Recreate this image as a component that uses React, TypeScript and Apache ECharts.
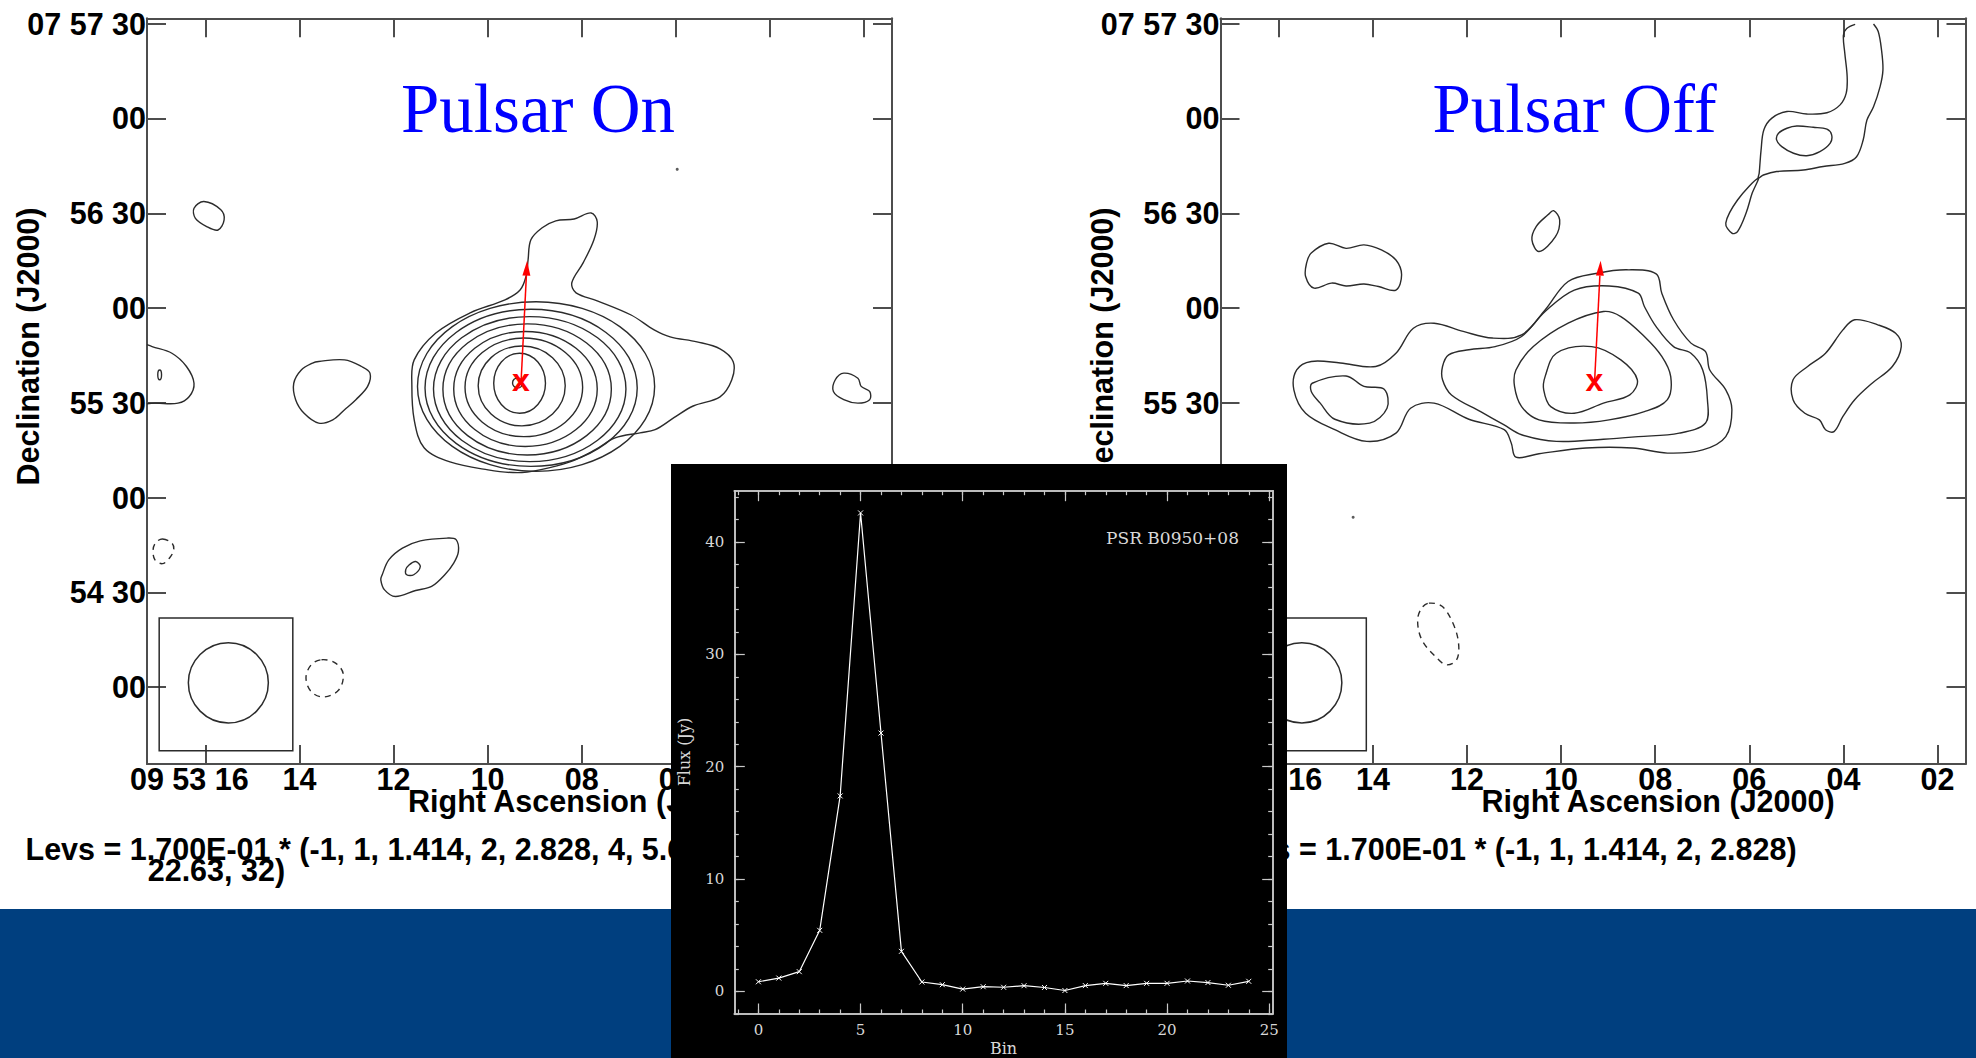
import React, { useEffect, useRef } from 'react';
import * as echarts from 'echarts';

// ---------- Radio maps: RA in seconds of 09h53m, Dec in arcsec above +07°54'00" ----------
const raMin = 1.405;
const raMax = 17.239;
const decMin = -24.3;
const decMax = 211.7;
const raTickValues = [16, 14, 12, 10, 8, 6, 4, 2];
const raTickLabels = ['09 53 16', '14', '12', '10', '08', '06', '04', '02'];
const decTickValues = [0, 30, 60, 90, 120, 150, 180, 210];
const decTickLabels = ['00', '54 30', '00', '55 30', '00', '56 30', '00', '07 57 30'];

const psrPos = [9.29, 96.2];
const psrArrowTip = [9.16, 135.0];

const levsOnLine1 = 'Levs = 1.700E-01 * (-1, 1, 1.414, 2, 2.828, 4, 5.657, 8, 11.31, 16,';
const levsOnLine2 = '22.63, 32)';
const levsOff = 'Levs = 1.700E-01 * (-1, 1, 1.414, 2, 2.828)';

// ---- "Pulsar On" contours [RA s, Dec "] ----
const onOuter = [[7.80,150.1],[7.67,147.3],[7.74,141.6],[7.97,134.3],[8.21,128.0],[8.12,124.8],[7.67,122.3],[6.95,117.8],[6.46,113.1],[6.12,110.9],[5.55,109.3],[5.06,107.1],[4.78,103.0],[4.81,97.3],[5.06,91.9],[5.63,89.0],[6.04,85.3],[6.44,81.5],[6.76,80.5],[7.29,78.9],[7.72,75.1],[8.25,71.3],[8.89,68.8],[9.37,67.9],[9.99,68.8],[10.80,71.3],[11.35,75.8],[11.56,84.6],[11.61,95.7],[11.56,103.6],[11.10,112.1],[10.37,118.5],[9.63,122.6],[9.31,125.7],[9.18,130.2],[9.14,135.2],[9.08,141.6],[8.84,145.4],[8.55,147.6],[8.16,148.2]];
const onRing1 = [[8.97,122.0],[6.45,95.2],[8.97,68.3],[11.49,95.2]];
const onRing2 = [[9.08,119.6],[6.82,94.7],[9.08,69.9],[11.33,94.7]];
const onRing3 = [[9.11,117.3],[7.06,94.4],[9.11,71.4],[11.15,94.4]];
const onRing4 = [[9.16,115.0],[7.37,94.3],[9.16,73.5],[10.95,94.3]];
const onRing5 = [[9.20,112.6],[7.67,94.4],[9.20,76.2],[10.72,94.4]];
const onRing6 = [[9.23,110.5],[7.98,94.9],[9.23,79.3],[10.48,94.9]];
const onRing7 = [[9.27,108.0],[8.35,95.4],[9.27,82.7],[10.20,95.4]];
const onRing8 = [[9.32,105.7],[8.77,96.2],[9.32,86.7],[9.87,96.2]];
const onRing9 = [[9.36,97.9],[9.26,96.3],[9.36,94.7],[9.47,96.3]];
const onEdgeOval = [[16.97,100.4],[16.93,98.9],[16.97,97.3],[17.01,98.9]];
const onBlobNW = [[16.03,153.7],[15.67,151.1],[15.60,147.9],[15.73,144.7],[15.97,145.8],[16.21,148.4],[16.24,151.6]];
const onBlobW = [[13.59,103.1],[13.04,103.6],[12.68,101.5],[12.50,99.4],[12.55,95.2],[12.80,91.0],[13.04,87.8],[13.29,84.6],[13.59,83.6],[13.90,86.7],[14.08,91.0],[14.12,96.2],[13.96,100.4],[13.72,102.6]];
const onBlobE = [[2.43,99.4],[2.13,97.8],[2.06,95.2],[1.88,93.6],[1.88,91.0],[2.13,89.9],[2.43,91.0],[2.65,93.6],[2.61,97.3]];
const onBlobS = [[12.24,35.6],[12.10,40.3],[11.81,44.0],[11.43,46.3],[10.86,47.2],[10.67,46.7],[10.62,43.0],[10.72,39.3],[10.91,35.6],[11.19,31.9],[11.53,30.6],[11.96,28.7],[12.19,30.8],[12.27,34.0]];
const onBlobSInner = [[11.67,38.7],[11.53,39.8],[11.43,38.2],[11.57,35.6],[11.72,35.6],[11.74,37.2]];
const onEdgeBlob = [[17.24,108.4],[17.13,107.8],[16.71,105.7],[16.40,101.5],[16.24,96.2],[16.34,92.0],[16.58,89.9],[17.07,89.9],[17.24,89.7]];
const onNegA = [[16.91,46.9],[16.71,45.6],[16.67,43.5],[16.76,40.9],[16.91,39.1],[17.07,40.3],[17.11,43.5],[17.05,45.8]];
const onNegB = [[13.53,8.7],[13.24,7.7],[13.07,4.3],[13.16,-0.8],[13.48,-3.1],[13.75,-1.4],[13.86,3.0],[13.75,7.1]];
const onDot = [[5.97,163.9]];

// ---- "Pulsar Off" contours ----
const offOuter = [[10.34,119.4],[9.85,128.4],[9.23,131.0],[8.61,132.1],[7.98,130.8],[7.86,124.7],[7.61,116.3],[7.24,108.9],[6.93,106.2],[6.84,100.4],[6.50,94.1],[6.37,87.8],[6.50,79.3],[6.99,75.1],[7.74,74.1],[8.48,75.7],[9.47,75.7],[10.47,73.9],[10.96,72.8],[11.06,77.3],[11.21,81.5],[11.96,84.8],[12.70,89.9],[13.20,88.3],[13.51,80.4],[14.13,77.8],[14.81,81.5],[15.43,86.7],[15.68,94.1],[15.62,100.4],[15.31,103.1],[14.69,102.6],[13.94,101.5],[13.51,105.7],[13.14,113.6],[12.70,115.2],[12.08,112.6],[11.46,110.5],[10.84,111.5]];
const offWestInner = [[15.29,96.2],[14.57,98.5],[14.19,95.2],[13.76,94.3],[13.70,88.3],[14.07,83.6],[14.81,84.8],[15.12,89.9],[15.31,93.6]];
const offLevel2 = [[12.52,101.5],[12.39,105.2],[11.96,106.8],[11.40,107.8],[10.84,111.0],[10.34,118.9],[9.72,125.7],[8.98,127.0],[8.36,124.7],[8.23,120.5],[7.98,114.1],[7.61,107.8],[7.24,105.7],[6.99,100.4],[6.89,91.0],[6.93,83.6],[7.49,80.4],[8.36,79.3],[9.10,78.5],[10.10,77.8],[10.84,79.9],[11.21,83.0],[11.71,87.2],[12.33,92.5],[12.52,97.3]];
const offLevel3 = [[10.96,100.4],[10.59,107.8],[9.85,115.2],[9.10,118.9],[8.73,117.3],[8.23,111.0],[7.86,104.7],[7.67,98.3],[7.74,91.0],[8.23,87.2],[8.98,84.6],[9.72,83.6],[10.47,84.6],[10.84,88.8],[10.99,95.2]];
const offLevel4 = [[10.34,98.3],[10.10,105.7],[9.35,107.8],[8.73,103.6],[8.38,97.3],[8.54,92.5],[9.10,89.9],[9.72,86.7],[10.22,88.8],[10.37,94.1]];
const offBlobNW = [[15.31,137.4],[14.94,140.5],[14.57,138.9],[14.19,140.0],[13.82,138.4],[13.51,135.2],[13.39,130.5],[13.51,125.7],[13.88,126.8],[14.19,127.6],[14.57,127.0],[14.88,127.9],[15.25,126.3],[15.43,130.0],[15.41,134.2]];
const offOval = [[10.16,150.8],[10.03,147.9],[10.12,142.6],[10.47,137.9],[10.62,141.6],[10.53,145.8],[10.28,149.5]];
const offBlobE = [[3.76,116.3],[3.27,114.7],[2.89,112.0],[2.77,107.8],[2.96,101.5],[3.39,96.2],[3.76,91.0],[4.01,85.7],[4.20,80.9],[4.38,81.5],[4.51,84.6],[4.82,86.7],[5.07,91.0],[5.07,97.3],[4.76,101.5],[4.38,105.7],[4.01,113.1]];
const offNorthArc = [[3.75,209.8],[3.93,208.5],[4.00,206.4],[3.97,200.6],[3.92,193.2],[3.94,188.0],[4.07,184.3],[4.35,181.8],[4.78,181.4],[5.20,182.2],[5.52,180.1],[5.69,176.4],[5.75,170.0],[5.79,162.7],[5.81,161.1],[5.70,162.1],[5.42,163.2],[4.85,163.7],[4.43,164.8],[3.97,165.8],[3.72,167.9],[3.58,173.2],[3.50,179.5],[3.36,183.7],[3.22,190.1],[3.16,195.3],[3.19,201.7],[3.26,207.5],[3.36,209.9]];
const offNorthLoop = [[5.81,161.1],[6.25,154.2],[6.50,146.9],[6.37,143.7],[6.25,144.2],[6.07,150.0],[5.94,156.3]];
const offNorthInner = [[5.38,175.3],[5.20,176.9],[4.99,177.6],[4.64,177.2],[4.35,176.6],[4.25,174.8],[4.28,172.2],[4.50,169.5],[4.78,168.2],[5.06,169.0],[5.31,171.1],[5.42,173.2]];
const offNeg = [[12.81,26.6],[12.53,25.6],[12.30,20.3],[12.18,14.0],[12.22,8.7],[12.44,7.1],[12.67,9.7],[12.96,15.0],[13.05,21.3],[12.96,25.1]];
const offDot = [[14.42,53.8]];

// ---- restoring beam ----
const beamBox = [[16.98, 21.9], [14.14, -20.1]];
const beamCircle = [[15.51, 14.1], [14.66, 1.4], [15.51, -11.3], [16.36, 1.4]];

const onClosed = [onOuter, onRing1, onRing2, onRing3, onRing4, onRing5, onRing6, onRing7, onRing8, onRing9, onEdgeOval, onBlobNW, onBlobW, onBlobE, onBlobS, onBlobSInner];
const onOpen = [onEdgeBlob];
const onDashed = [onNegA, onNegB];
const offClosed = [offOuter, offWestInner, offLevel2, offLevel3, offLevel4, offBlobNW, offOval, offBlobE, offNorthLoop, offNorthInner];
const offOpen = [offNorthArc];
const offDashed = [offNeg];

// ---------- Inset: pulse profile ----------
const bins = [0, 1, 2, 3, 4, 5, 6, 7, 8, 9, 10, 11, 12, 13, 14, 15, 16, 17, 18, 19, 20, 21, 22, 23, 24];
const flux = [0.85, 1.18, 1.75, 5.43, 17.4, 42.6, 23.0, 3.56, 0.83, 0.59, 0.2, 0.41, 0.36, 0.5, 0.34, 0.07, 0.51, 0.71, 0.51, 0.71, 0.71, 0.92, 0.78, 0.54, 0.89];
const binMajorTicks = [0, 5, 10, 15, 20, 25];
const binMinorTicks = [-1, 0, 1, 2, 3, 4, 5, 6, 7, 8, 9, 10, 11, 12, 13, 14, 15, 16, 17, 18, 19, 20, 21, 22, 23, 24, 25];
const fluxMajorTicks = [0, 10, 20, 30, 40];
const fluxMinorTicks = [-2, 0, 2, 4, 6, 8, 10, 12, 14, 16, 18, 20, 22, 24, 26, 28, 30, 32, 34, 36, 38, 40, 42, 44];
const binMin = -1.18;
const binMax = 25.17;
const fluxMin = -2.02;
const fluxMax = 44.58;

const sansFont = "'Liberation Sans', Arial, Helvetica, sans-serif";
const serifFont = "'Liberation Serif', 'Times New Roman', serif";
const pgFont = "'DejaVu Serif', serif";
const frameColor = '#4d4d4d';
const contourColor = '#2b2b2b';
const insetGray = '#c8c8c8';
const insetText = '#d8d8d8';
const boldSize = 30.5;

const labelBold = { fontFamily: sansFont, fontWeight: 'bold', fontSize: boldSize, color: '#000' };

function raAxis(grid: number, position: string, labels: boolean) {
  return {
    type: 'value', gridIndex: grid, position, min: raMin, max: raMax, inverse: true,
    axisLine: { show: true, onZero: false, lineStyle: { color: frameColor, width: 2 } },
    axisTick: { show: true, inside: true, length: 19, customValues: raTickValues, lineStyle: { color: frameColor, width: 2 } },
    axisLabel: labels ? {
      show: true, customValues: raTickValues, margin: 15, verticalAlign: 'middle', ...labelBold,
      formatter: (v: number) => {
        const i = raTickValues.indexOf(v);
        const t = i >= 0 ? raTickLabels[i] : '';
        return i === 0 ? `{first|${t}}` : t;
      },
      rich: { first: { ...labelBold, padding: [0, 32, 0, 0] } },
    } : { show: false },
    splitLine: { show: false },
  };
}

function decAxis(grid: number, position: string, labels: boolean) {
  return {
    type: 'value', gridIndex: grid, position, min: decMin, max: decMax,
    axisLine: { show: true, onZero: false, lineStyle: { color: frameColor, width: 2 } },
    axisTick: { show: true, inside: true, length: 19, customValues: decTickValues, lineStyle: { color: frameColor, width: 2 } },
    axisLabel: labels ? {
      show: true, customValues: decTickValues, margin: 1, ...labelBold,
      formatter: (v: number) => { const i = decTickValues.indexOf(v); return i >= 0 ? decTickLabels[i] : ''; },
    } : { show: false },
    splitLine: { show: false },
  };
}

function insetAxis(kind: 'x' | 'y', position: string, ticks: number[], len: number, labels: number[] | null) {
  return {
    type: 'value', gridIndex: 2, position, z: 60,
    min: kind === 'x' ? binMin : fluxMin, max: kind === 'x' ? binMax : fluxMax,
    axisLine: { show: true, onZero: false, lineStyle: { color: insetGray, width: 1.5 } },
    axisTick: { show: true, inside: true, length: len, customValues: ticks, lineStyle: { color: insetGray, width: 1.2 } },
    axisLabel: labels ? {
      show: true, customValues: labels, margin: kind === 'x' ? 16 : 10, verticalAlign: 'middle',
      fontFamily: pgFont, fontSize: 15, color: insetText,
    } : { show: false },
    splitLine: { show: false },
  };
}

function contourSeries(xi: number, yi: number, shapes: number[][][], closed: boolean, dashed: boolean) {
  return {
    type: 'custom', xAxisIndex: xi, yAxisIndex: yi, silent: true, z: 3,
    data: shapes.map((s) => [s[0][0], s[0][1]]),
    renderItem: (params: any, api: any) => {
      const s = shapes[params.dataIndex];
      const pts = s.map((p) => api.coord(p));
      return {
        type: closed ? 'polygon' : 'polyline',
        shape: { points: pts, smooth: s.length <= 4 ? 0.55 : 0.35 },
        style: { fill: 'none', stroke: contourColor, lineWidth: 1.4, lineDash: dashed ? [6, 5] : null },
      };
    },
  };
}

function beamSeries(xi: number, yi: number) {
  return {
    type: 'custom', xAxisIndex: xi, yAxisIndex: yi, silent: true, z: 3,
    data: [[beamBox[0][0], beamBox[0][1]]],
    renderItem: (params: any, api: any) => {
      const a = api.coord(beamBox[0]);
      const b = api.coord(beamBox[1]);
      const circ = beamCircle.map((p) => api.coord(p));
      return {
        type: 'group',
        children: [
          { type: 'rect', shape: { x: Math.min(a[0], b[0]), y: Math.min(a[1], b[1]), width: Math.abs(b[0] - a[0]), height: Math.abs(b[1] - a[1]) }, style: { fill: 'none', stroke: contourColor, lineWidth: 1.5 } },
          { type: 'polygon', shape: { points: circ, smooth: 0.55 }, style: { fill: 'none', stroke: contourColor, lineWidth: 1.5 } },
        ],
      };
    },
  };
}

function dotSeries(xi: number, yi: number, pts: number[][]) {
  return { type: 'scatter', xAxisIndex: xi, yAxisIndex: yi, silent: true, symbolSize: 3, itemStyle: { color: '#333' }, data: pts, z: 3 };
}

function pulsarSeries(xi: number, yi: number) {
  return {
    type: 'custom', xAxisIndex: xi, yAxisIndex: yi, silent: true, z: 4,
    data: [[psrPos[0], psrPos[1], psrArrowTip[0], psrArrowTip[1]]],
    renderItem: (params: any, api: any) => {
      const p = api.coord([api.value(0), api.value(1)]);
      const t = api.coord([api.value(2), api.value(3)]);
      const dx = t[0] - p[0];
      const dy = t[1] - p[1];
      const L = Math.hypot(dx, dy) || 1;
      const ux = dx / L;
      const uy = dy / L;
      const head = 15;
      const half = 4;
      const bx = t[0] - ux * head;
      const by = t[1] - uy * head;
      return {
        type: 'group',
        children: [
          { type: 'line', shape: { x1: p[0], y1: p[1], x2: bx, y2: by }, style: { stroke: '#ff0000', lineWidth: 1.5 } },
          { type: 'polygon', shape: { points: [[t[0], t[1]], [bx - uy * half, by + ux * half], [bx + uy * half, by - ux * half]] }, style: { fill: '#ff0000' } },
          { type: 'text', x: p[0], y: p[1] - 3, style: { text: 'x', fill: '#ff0000', fontSize: 32, fontWeight: 'bold', fontFamily: sansFont, align: 'center', verticalAlign: 'middle', textAlign: 'center', textVerticalAlign: 'middle' } },
        ],
      };
    },
  };
}

function txt(text: string, x: number, y: number, opts: any, z = 5) {
  return {
    type: 'text', x, y, z, rotation: opts.rotation || 0, silent: true,
    style: {
      text, fill: opts.color || '#000', fontSize: opts.fontSize, fontFamily: opts.fontFamily, fontWeight: opts.fontWeight || 'normal',
      align: opts.align || 'left', textAlign: opts.align || 'left', verticalAlign: 'middle', textVerticalAlign: 'middle',
    },
  };
}

function buildOption() {
  const bold = { fontSize: boldSize, fontFamily: sansFont, fontWeight: 'bold' };
  const pg = { fontSize: 16, fontFamily: pgFont, color: insetText };
  return {
    animation: false,
    backgroundColor: '#ffffff',
    grid: [
      { left: 147, top: 18.3, width: 745, height: 745.7 },
      { left: 1220.5, top: 18.3, width: 745, height: 745.7 },
      { left: 734.3, top: 490.7, width: 538.4, height: 523.3 },
    ],
    xAxis: [
      raAxis(0, 'bottom', true),
      raAxis(0, 'top', false),
      raAxis(1, 'bottom', true),
      raAxis(1, 'top', false),
      insetAxis('x', 'bottom', binMajorTicks, 10.5, binMajorTicks),
      insetAxis('x', 'bottom', binMinorTicks, 4.5, null),
      insetAxis('x', 'top', binMajorTicks, 10.5, null),
      insetAxis('x', 'top', binMinorTicks, 4.5, null),
    ],
    yAxis: [
      decAxis(0, 'left', true),
      decAxis(0, 'right', false),
      decAxis(1, 'left', true),
      decAxis(1, 'right', false),
      insetAxis('y', 'left', fluxMajorTicks, 10.5, fluxMajorTicks),
      insetAxis('y', 'left', fluxMinorTicks, 4.5, null),
      insetAxis('y', 'right', fluxMajorTicks, 10.5, null),
      insetAxis('y', 'right', fluxMinorTicks, 4.5, null),
    ],
    graphic: [
      { type: 'rect', z: 1, silent: true, shape: { x: 0, y: 909, width: 1976, height: 149 }, style: { fill: '#003f7f' } },
      txt('Pulsar On', 401, 109, { fontSize: 69, fontFamily: serifFont, color: '#0000ff' }),
      txt('Pulsar Off', 1432.5, 109, { fontSize: 69, fontFamily: serifFont, color: '#0000ff' }),
      txt('Declination (J2000)', 28, 346.5, { ...bold, align: 'center', rotation: Math.PI / 2 }),
      txt('Declination (J2000)', 1101.5, 346.5, { ...bold, align: 'center', rotation: Math.PI / 2 }),
      txt('Right Ascension (J2000)', 408, 800.5, bold),
      txt('Right Ascension (J2000)', 1481.5, 800.5, bold),
      txt(levsOnLine1, 25.5, 849, bold),
      txt(levsOnLine2, 147.7, 870, bold),
      txt(levsOff, 1221, 849, bold),
      { type: 'rect', z: 50, silent: true, shape: { x: 671, y: 464, width: 616, height: 594 }, style: { fill: '#000000' } },
      txt('PSR B0950+08', 1239, 538, { fontSize: 17, fontFamily: pgFont, color: insetText, align: 'right' }, 62),
      txt('Bin', 1003.5, 1048.5, { ...pg, align: 'center' }, 62),
      txt('Flux (Jy)', 684, 752, { ...pg, align: 'center', rotation: Math.PI / 2 }, 62),
    ],
    series: [
      contourSeries(0, 0, onClosed, true, false),
      contourSeries(0, 0, onOpen, false, false),
      contourSeries(0, 0, onDashed, true, true),
      beamSeries(0, 0),
      dotSeries(0, 0, onDot),
      pulsarSeries(0, 0),
      contourSeries(2, 2, offClosed, true, false),
      contourSeries(2, 2, offOpen, false, false),
      contourSeries(2, 2, offDashed, true, true),
      beamSeries(2, 2),
      dotSeries(2, 2, offDot),
      pulsarSeries(2, 2),
      {
        type: 'line', xAxisIndex: 4, yAxisIndex: 4, z: 61, silent: true,
        data: bins.map((b, i) => [b, flux[i]]),
        symbol: 'path://M0,0L10,10M10,0L0,10', symbolSize: 5, showSymbol: true,
        lineStyle: { color: '#ffffff', width: 1.2 },
        itemStyle: { color: '#ffffff', borderColor: '#ffffff', borderWidth: 1 },
      },
    ],
  };
}

export default function App() {
  const ref = useRef<HTMLDivElement>(null);
  useEffect(() => {
    if (!ref.current) return;
    const chart = echarts.init(ref.current, undefined, { renderer: 'svg' });
    chart.setOption(buildOption() as any);
    return () => chart.dispose();
  }, []);
  return <div ref={ref} style={{ position: 'absolute', left: 0, top: 0, width: 1976, height: 1058, background: '#fff' }} />;
}
